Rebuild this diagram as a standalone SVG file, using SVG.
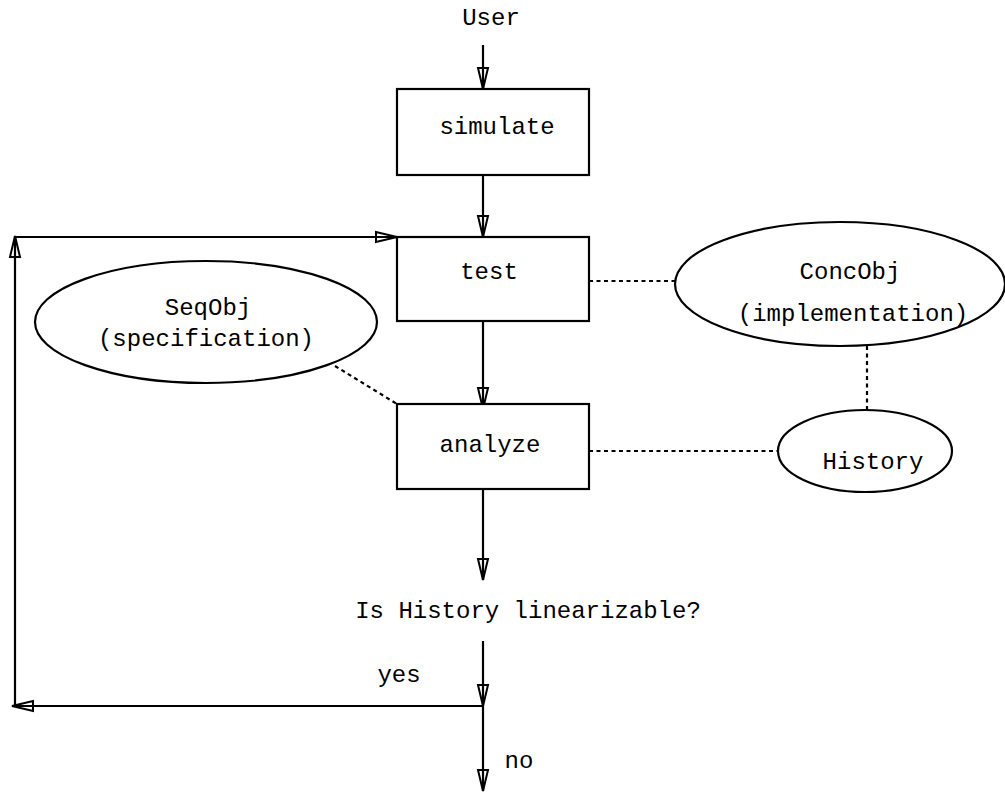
<svg xmlns="http://www.w3.org/2000/svg" width="1005" height="793" viewBox="0 0 1005 793">
<style>
text{font-family:"Liberation Mono","DejaVu Sans Mono",monospace;font-size:24px;fill:#000;text-anchor:middle}
.box{fill:#fff;stroke:#000;stroke-width:2.2}
.ell{fill:#fff;stroke:#000;stroke-width:2.2}
.arr{fill:none;stroke:#000;stroke-width:2.2;marker-end:url(#ah)}
.ln{fill:none;stroke:#000;stroke-width:2.2}
.dot{fill:none;stroke:#000;stroke-width:2.2;stroke-dasharray:4 3.5}
</style>
<defs>
<marker id="ah" markerUnits="userSpaceOnUse" viewBox="-23 -7 25 14" refX="0" refY="0" markerWidth="25" markerHeight="14" orient="auto">
<path d="M0,0 L-21,-5 L-21,5 Z" fill="none" stroke="#000" stroke-width="2"/>
</marker>
</defs>
<g id="connectors">
<line class="arr" x1="483" y1="45" x2="483" y2="89"/>
<line class="arr" x1="483" y1="175" x2="483" y2="237"/>
<line class="arr" x1="483" y1="321" x2="483" y2="409"/>
<line class="arr" x1="483" y1="489" x2="483" y2="580"/>
<line class="arr" x1="483" y1="641" x2="483" y2="706"/>
<line class="arr" x1="483" y1="706" x2="483" y2="791"/>
<line class="arr" x1="483" y1="706" x2="12" y2="706"/>
<line class="arr" x1="15" y1="706" x2="15" y2="236"/>
<line class="arr" x1="14" y1="237" x2="397" y2="237"/>
<line class="dot" x1="589" y1="281" x2="675" y2="281"/>
<line class="dot" x1="589" y1="451" x2="778" y2="451"/>
<line class="dot" x1="867" y1="346" x2="867" y2="410"/>
<line class="dot" x1="335" y1="366" x2="397" y2="404"/>
</g>
<g id="user"><text x="491" y="25">User</text></g>
<g id="simulate"><rect class="box" x="397" y="89" width="192" height="86"/><text x="497" y="134">simulate</text></g>
<g id="test"><rect class="box" x="397" y="237" width="192" height="84"/><text x="489" y="279">test</text></g>
<g id="analyze"><rect class="box" x="397" y="404" width="192" height="85"/><text x="490" y="452">analyze</text></g>
<g id="seqobj"><ellipse class="ell" cx="206" cy="322" rx="171" ry="61"/><text x="208" y="315">SeqObj</text><text x="206" y="346">(specification)</text></g>
<g id="concobj"><ellipse class="ell" cx="840" cy="284" rx="165" ry="62"/><text x="850" y="279">ConcObj</text><text x="853" y="321">(implementation)</text></g>
<g id="history"><ellipse class="ell" cx="865" cy="451" rx="87" ry="41"/><text x="873" y="469">History</text></g>
<g id="question"><text x="528" y="618">Is History linearizable?</text></g>
<g id="yes"><text x="399" y="682">yes</text></g>
<g id="no"><text x="519" y="768">no</text></g>
</svg>
